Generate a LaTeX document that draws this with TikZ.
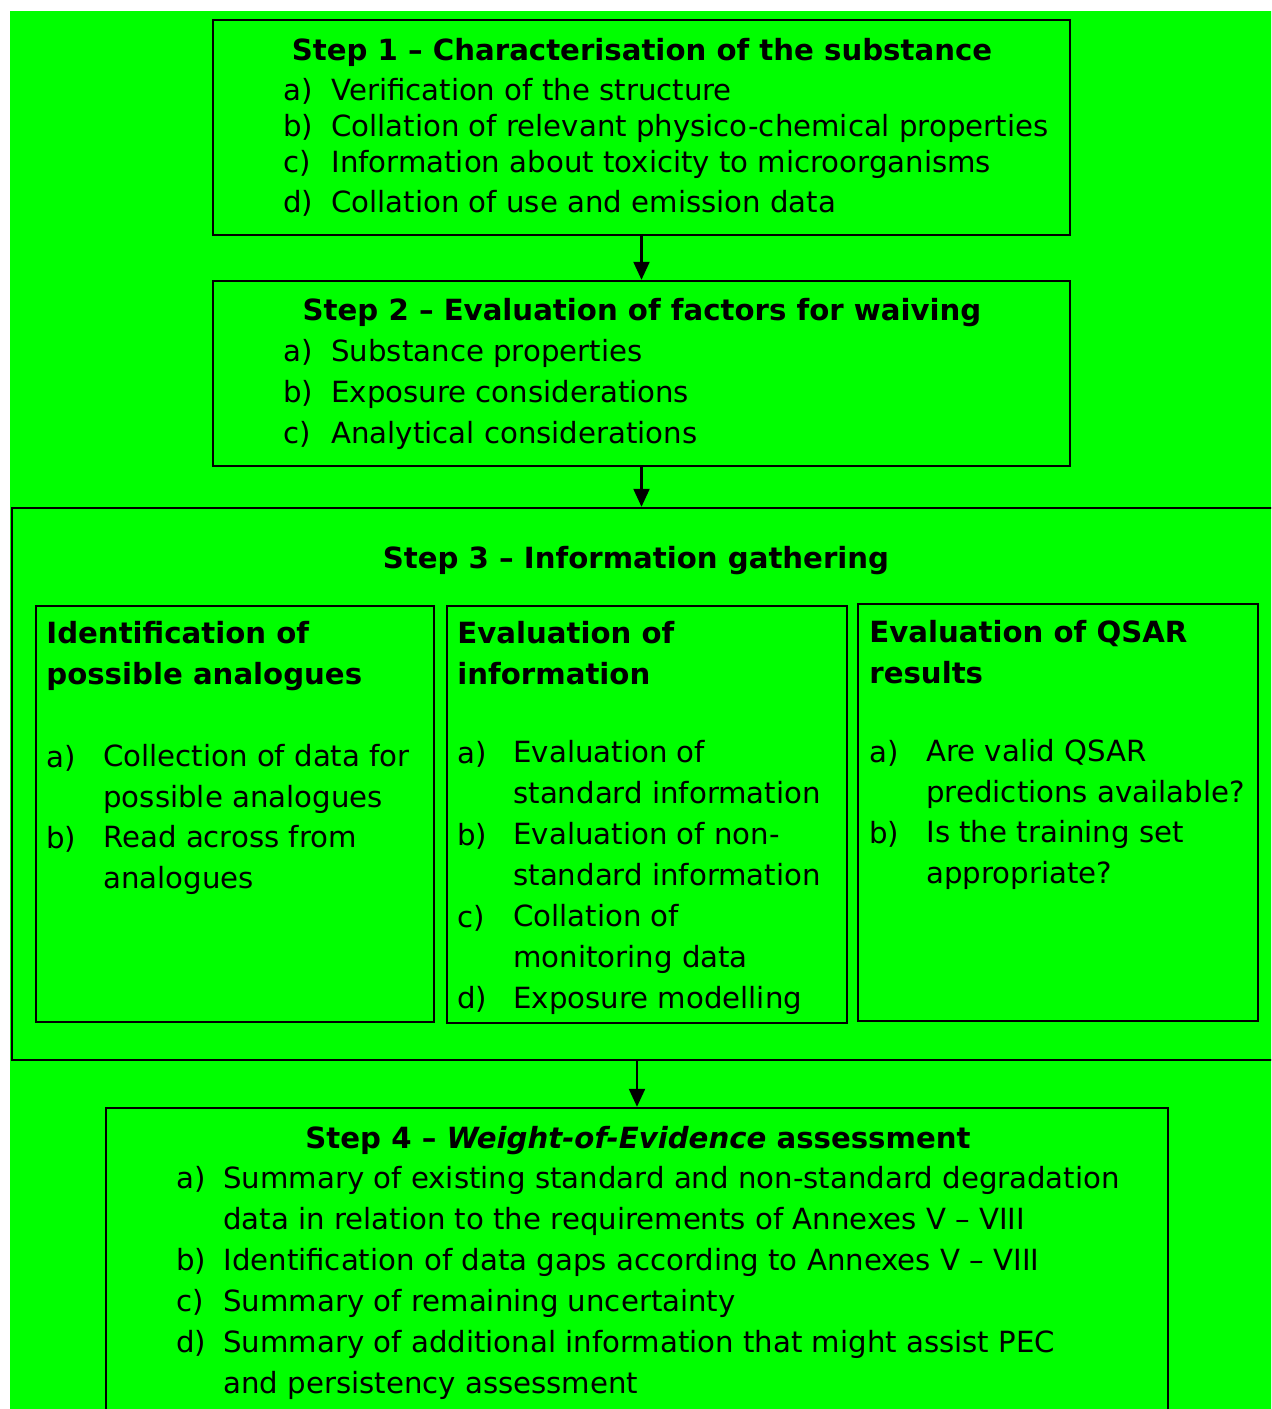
\documentclass[tikz,border=0pt]{standalone}
\usepackage{fontspec}
\setmainfont{DejaVu Sans}
\usetikzlibrary{fit,arrows.meta}
\definecolor{flowgreen}{RGB}{0,255,0}
\newcommand{\flowfont}{\fontsize{14.6}{20.25}\selectfont}
\tikzset{
  box/.style={draw, line width=1.2pt, inner sep=0pt},
  steptitle/.style={anchor=base, font=\flowfont\bfseries},
  head/.style={anchor=base west, font=\flowfont\bfseries, align=left},
  lbl/.style={anchor=base west, font=\flowfont},
  itm/.style={anchor=base west, font=\flowfont, align=left},
  arr/.style={line width=1.1pt, -{Triangle[width=8pt,length=9pt]}}
}
\begin{document}
\begin{tikzpicture}[x=0.5pt, y=-0.5pt, inner sep=0pt]
  \useasboundingbox (0,0) rectangle (1271,1409);
  \clip (0,0) rectangle (1271,1409);
  \fill[flowgreen] (10,11) rectangle (1290,1430);

  % Step 1
  \node[box, fit={(213,20) (1070,235)}] (s1) {};
  \node[steptitle] (s1h) at (642,60) {Step 1 – Characterisation of the substance};
  \node[lbl] (s1a) at (283,100) {a)};
  \node[itm] (s1at) at (331,100) {Verification of the structure};
  \node[lbl] (s1b) at (283,136) {b)};
  \node[itm] (s1bt) at (331,136) {Collation of relevant physico-chemical properties};
  \node[lbl] (s1c) at (283,172) {c)};
  \node[itm] (s1ct) at (331,172) {Information about toxicity to microorganisms};
  \node[lbl] (s1d) at (283,212) {d)};
  \node[itm] (s1dt) at (331,212) {Collation of use and emission data};

  % Step 2
  \node[box, fit={(213,281) (1070,466)}] (s2) {};
  \node[steptitle] (s2h) at (642,320) {Step 2 – Evaluation of factors for waiving};
  \node[lbl] (s2a) at (283,361) {a)};
  \node[itm] (s2at) at (331,361) {Substance properties};
  \node[lbl] (s2b) at (283,402) {b)};
  \node[itm] (s2bt) at (331,402) {Exposure considerations};
  \node[lbl] (s2c) at (283,443) {c)};
  \node[itm] (s2ct) at (331,443) {Analytical considerations};

  % Step 3 with its three boxes (two-line texts sit on their last baseline)
  \node[box, fit={(12,508) (1290,1060)}] (s3) {};
  \node[steptitle] (s3h) at (636,568) {Step 3 – Information gathering};

  \node[box, fit={(36,606) (434,1022)}] (ana) {};
  \node[head] (anah) at (46,684) {Identification of\\possible analogues};
  \node[lbl] (anaa) at (46,767) {a)};
  \node[itm] (anaat) at (103,807) {Collection of data for\\possible analogues};
  \node[lbl] (anab) at (46,848) {b)};
  \node[itm] (anabt) at (103,888) {Read across from\\analogues};

  \node[box, fit={(447,606) (847,1023)}] (inf) {};
  \node[head] (infh) at (457,684) {Evaluation of\\information};
  \node[lbl] (infa) at (457,763) {a)};
  \node[itm] (infat) at (513,803) {Evaluation of\\standard information};
  \node[lbl] (infb) at (457,845) {b)};
  \node[itm] (infbt) at (513,885) {Evaluation of non-\\standard information};
  \node[lbl] (infc) at (457,927) {c)};
  \node[itm] (infct) at (513,967) {Collation of\\monitoring data};
  \node[lbl] (infd) at (457,1008) {d)};
  \node[itm] (infdt) at (513,1008) {Exposure modelling};

  \node[box, fit={(858,604) (1258,1021)}] (qsar) {};
  \node[head] (qsarh) at (869,683) {Evaluation of QSAR\\results};
  \node[lbl] (qsara) at (869,762) {a)};
  \node[itm] (qsarat) at (926,802) {Are valid QSAR\\predictions available?};
  \node[lbl] (qsarb) at (869,843) {b)};
  \node[itm] (qsarbt) at (926,883) {Is the training set\\appropriate?};

  % Step 4
  \node[box, fit={(106,1108) (1168,1440)}] (s4) {};
  \node[steptitle] (s4h) at (638,1148) {Step 4 – \textit{Weight-of-Evidence} assessment};
  \node[lbl] (s4a) at (176,1188) {a)};
  \node[itm] (s4at) at (223,1229) {Summary of existing standard and non-standard degradation\\data in relation to the requirements of Annexes V – VIII};
  \node[lbl] (s4b) at (176,1270) {b)};
  \node[itm] (s4bt) at (223,1270) {Identification of data gaps according to Annexes V – VIII};
  \node[lbl] (s4c) at (176,1311) {c)};
  \node[itm] (s4ct) at (223,1311) {Summary of remaining uncertainty};
  \node[lbl] (s4d) at (176,1352) {d)};
  \node[itm] (s4dt) at (223,1393) {Summary of additional information that might assist PEC\\and persistency assessment};

  % connectors
  \draw[arr] (s1.south) -- (s2.north);
  \draw[arr] (s2.south) -- (s2.south |- s3.north);
  \draw[arr] (s4.north |- s3.south) -- (s4.north);
\end{tikzpicture}
\end{document}
